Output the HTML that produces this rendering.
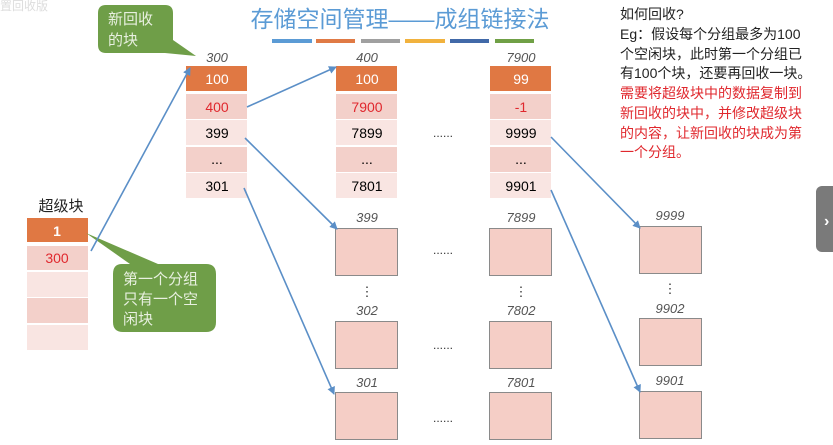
<!DOCTYPE html>
<html><head><meta charset="utf-8"><style>
html,body{margin:0;padding:0;background:#fff;width:833px;height:445px;overflow:hidden}
svg{display:block}
text{font-family:"Liberation Sans","Noto Sans CJK SC",sans-serif}
</style></head><body>
<svg width="833" height="445" viewBox="0 0 833 445" xmlns="http://www.w3.org/2000/svg">
<defs><marker id="a" markerWidth="8" markerHeight="8" refX="7" refY="4" orient="auto" markerUnits="userSpaceOnUse"><path d="M0,0 L8,4 L0,8 z" fill="#5b8fc7"/></marker></defs>
<text x="400" y="27" font-size="23" fill="#5b9bd5" text-anchor="middle">存储空间管理——成组链接法</text>
<rect x="272" y="39" width="40" height="4" fill="#5b9bd5"/>
<rect x="316" y="39" width="39" height="4" fill="#e07a45"/>
<rect x="361" y="39" width="39" height="4" fill="#a0a0a0"/>
<rect x="405" y="39" width="40" height="4" fill="#f1b23e"/>
<rect x="450" y="39" width="39" height="4" fill="#4169a8"/>
<rect x="495" y="39" width="39" height="4" fill="#70a046"/>
<text x="0" y="10" font-size="12" fill="#ddd">置回收版</text>
<path d="M106,5 H165 Q173,5 173,13 V40 L196,56 L165,53 H106 Q98,53 98,45 V13 Q98,5 106,5 z" fill="#6f9e48"/>
<text x="108" y="24" font-size="15" fill="#e8f0e0">新回收</text>
<text x="108" y="45" font-size="15" fill="#e8f0e0">的块</text>
<g font-size="13" font-style="italic" fill="#555" text-anchor="middle">
<text x="217" y="62">300</text><text x="367" y="62">400</text><text x="521" y="62">7900</text>
<text x="367" y="222">399</text><text x="521" y="222">7899</text><text x="670" y="220">9999</text>
<text x="367" y="315">302</text><text x="521" y="315">7802</text><text x="670" y="313">9902</text>
<text x="367" y="387">301</text><text x="521" y="387">7801</text><text x="670" y="385">9901</text>
</g>
<g id="col">
<rect x="186" y="66" width="61" height="25" fill="#e07843"/>
<rect x="186" y="94" width="61" height="25" fill="#f3d0ca"/>
<rect x="186" y="120" width="61" height="25" fill="#f9e5e2"/>
<rect x="186" y="147" width="61" height="25" fill="#f3d0ca"/>
<rect x="186" y="173" width="61" height="25" fill="#f9e5e2"/>
</g>
<use href="#col" x="150"/><use href="#col" x="304"/>
<g font-size="14" text-anchor="middle">
<text x="217" y="84" fill="#fff">100</text><text x="217" y="112" fill="#e0282e">400</text><text x="217" y="138">399</text><text x="217" y="164">...</text><text x="217" y="191">301</text>
<text x="367" y="84" fill="#fff">100</text><text x="367" y="112" fill="#e0282e">7900</text><text x="367" y="138">7899</text><text x="367" y="164">...</text><text x="367" y="191">7801</text>
<text x="521" y="84" fill="#fff">99</text><text x="521" y="112" fill="#e0282e">-1</text><text x="521" y="138">9999</text><text x="521" y="164">...</text><text x="521" y="191">9901</text>
</g>
<text x="61" y="211" font-size="15" text-anchor="middle" fill="#222">超级块</text>
<rect x="27" y="218" width="61" height="24" fill="#e07843"/>
<rect x="27" y="246" width="61" height="24" fill="#f3d0ca"/>
<rect x="27" y="272" width="61" height="25" fill="#f9e5e2"/>
<rect x="27" y="298" width="61" height="25" fill="#f3d0ca"/>
<rect x="27" y="325" width="61" height="25" fill="#f9e5e2"/>
<text x="57" y="236" font-size="14" fill="#fff" text-anchor="middle" font-weight="bold">1</text>
<text x="57" y="263" font-size="14" fill="#e0282e" text-anchor="middle">300</text>
<path d="M122,264 H130 L86,233 L158,264 H206 Q216,264 216,274 V322 Q216,332 206,332 H123 Q113,332 113,322 V274 Q113,264 122,264 z" fill="#6f9e48"/>
<text x="123" y="284" font-size="15" fill="#e8f0e0">第一个分组</text>
<text x="123" y="304" font-size="15" fill="#e8f0e0">只有一个空</text>
<text x="123" y="324" font-size="15" fill="#e8f0e0">闲块</text>
<g fill="#f5cec6" stroke="#8a8a8a" stroke-width="1">
<rect x="335.5" y="228.5" width="62" height="47"/><rect x="489.5" y="228.5" width="62" height="47"/><rect x="639.5" y="226.5" width="62" height="47"/>
<rect x="335.5" y="321.5" width="62" height="47"/><rect x="489.5" y="321.5" width="62" height="47"/><rect x="639.5" y="318.5" width="62" height="47"/>
<rect x="335.5" y="392.5" width="62" height="47"/><rect x="489.5" y="392.5" width="62" height="47"/><rect x="639.5" y="391.5" width="62" height="47"/>
</g>
<g font-size="12" text-anchor="middle" fill="#333">
<text x="443" y="137">......</text><text x="443" y="254">......</text><text x="443" y="349">......</text><text x="443" y="422">......</text>
</g>
<g font-size="13" text-anchor="middle" fill="#333">
<text x="367" y="296">⋮</text><text x="521" y="296">⋮</text><text x="670" y="293">⋮</text>
</g>
<g stroke="#5b8fc7" stroke-width="1.6" fill="none" marker-end="url(#a)">
<line x1="91" y1="251" x2="190" y2="68"/>
<line x1="247" y1="107" x2="336" y2="67"/>
<line x1="245" y1="138" x2="337" y2="229"/>
<line x1="244" y1="188" x2="334" y2="394"/>
<line x1="551" y1="137" x2="640" y2="228"/>
<line x1="551" y1="190" x2="640" y2="392"/>
</g>
<g font-size="14">
<text x="620" y="19" fill="#222">如何回收?</text>
<text x="620" y="39" fill="#222">Eg：假设每个分组最多为100</text>
<text x="620" y="59" fill="#222">个空闲块，此时第一个分组已</text>
<text x="620" y="78" fill="#222">有100个块，还要再回收一块。</text>
<text x="620" y="98" fill="#e0282e">需要将超级块中的数据复制到</text>
<text x="620" y="118" fill="#e0282e">新回收的块中，并修改超级块</text>
<text x="620" y="138" fill="#e0282e">的内容，让新回收的块成为第</text>
<text x="620" y="157" fill="#e0282e">一个分组。</text>
</g>
<rect x="816" y="186" width="24" height="66" rx="6" fill="#7a7a7a"/>
<text x="824" y="226" font-size="16" fill="#fff" font-weight="bold">›</text>
</svg>
</body></html>
